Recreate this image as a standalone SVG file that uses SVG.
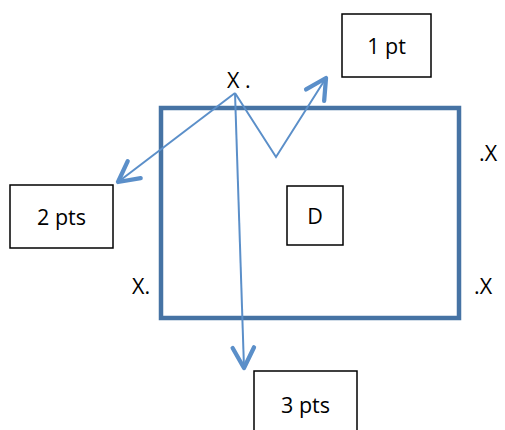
<svg xmlns="http://www.w3.org/2000/svg" width="505" height="430" viewBox="0 0 505 430">
<defs>
<style>
.box{fill:#fff;stroke:#000;stroke-width:1.5}
.lbl{font-family:"Open Sans","Liberation Sans",sans-serif;font-size:21.5px;fill:#000}
.conn{fill:none;stroke:#5b8fc9;stroke-width:2}
</style>
<marker id="ah" markerUnits="userSpaceOnUse" markerWidth="30" markerHeight="30" viewBox="-24 -14 28 28" refX="0" refY="0" orient="auto">
<path d="M -19 -10 L 0 0 L -19 10" fill="none" stroke="#5b8fc9" stroke-width="4" stroke-linecap="round" stroke-linejoin="round"/>
</marker>
</defs>
<rect width="505" height="430" fill="#fff"/>
<g id="region">
<rect x="161" y="108" width="298" height="210" fill="none" stroke="#4673a4" stroke-width="4.5"/>
</g>
<g id="node-D">
<rect class="box" x="287" y="186" width="56" height="59"/>
<text class="lbl" x="315" y="224" text-anchor="middle">D</text>
</g>
<g id="node-1pt">
<rect class="box" x="342" y="14" width="89" height="63"/>
<text class="lbl" x="386.5" y="54" text-anchor="middle">1 pt</text>
</g>
<g id="node-2pts">
<rect class="box" x="10" y="185" width="103" height="63"/>
<text class="lbl" x="61.5" y="225" text-anchor="middle">2 pts</text>
</g>
<g id="node-3pts">
<rect class="box" x="254" y="371" width="103" height="63"/>
<text class="lbl" x="305.5" y="413" text-anchor="middle">3 pts</text>
</g>
<g id="marks">
<text class="lbl" x="227" y="88">X .</text>
<text class="lbl" x="132" y="294">X.</text>
<text class="lbl" x="479" y="161">.X</text>
<text class="lbl" x="474" y="294">.X</text>
</g>
<g id="connectors">
<line class="conn" x1="235" y1="93" x2="118" y2="182" marker-end="url(#ah)"/>
<polyline class="conn" points="235,93 276,157 326,78" marker-end="url(#ah)"/>
<line class="conn" x1="235" y1="93" x2="244" y2="368" marker-end="url(#ah)"/>
</g>
</svg>
